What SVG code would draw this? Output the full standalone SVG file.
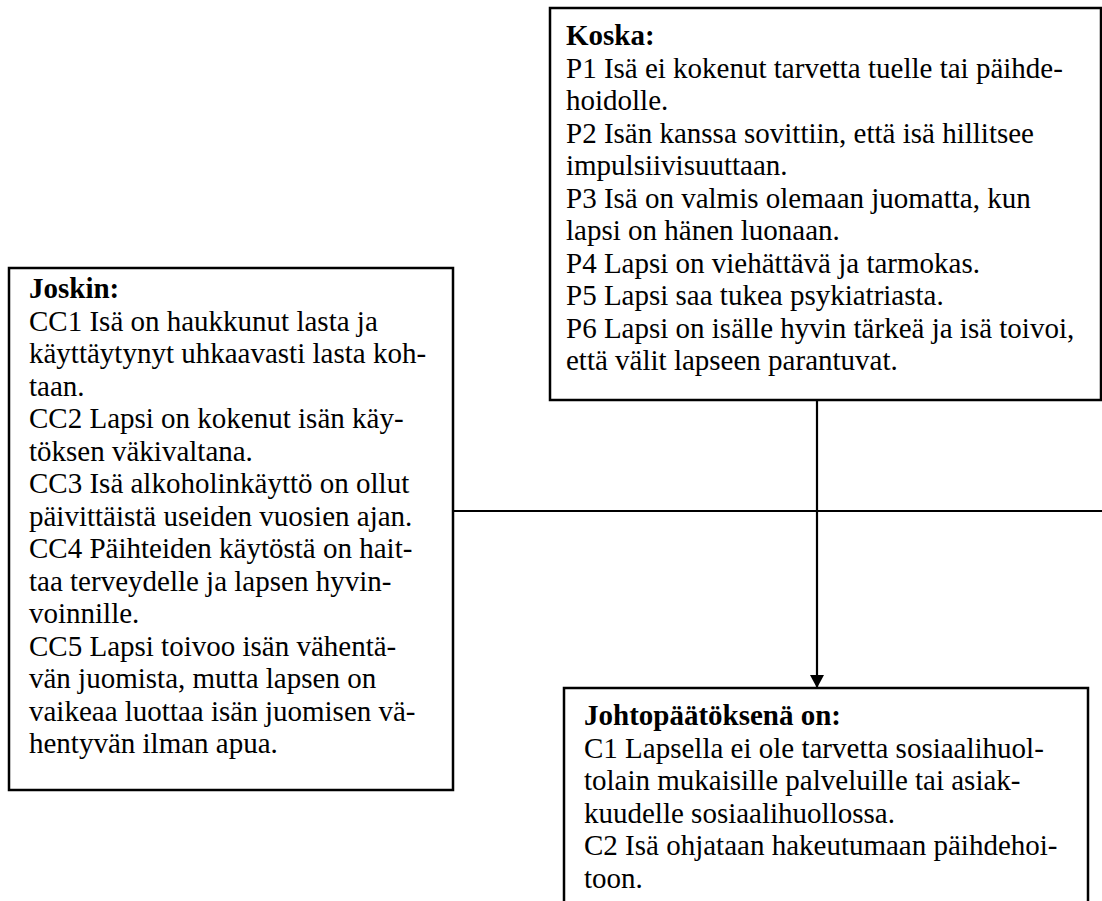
<svg xmlns="http://www.w3.org/2000/svg" width="1102" height="901" viewBox="0 0 1102 901">
<style>
  .box { fill: #ffffff; stroke: #000000; stroke-width: 2.5; }
  .txt { font-family: "Liberation Serif", "Times New Roman", serif; font-size: 29px; fill: #000000; }
  .hd { font-weight: bold; }
  .conn { stroke: #000000; stroke-width: 2.2; fill: none; }
</style>
<defs>
  <marker id="arrow" markerUnits="userSpaceOnUse" markerWidth="14" markerHeight="14" refX="13" refY="7" orient="auto">
    <path d="M0,0 L13,7 L0,14 Z" fill="#000000"/>
  </marker>
</defs>
<rect x="0" y="0" width="1102" height="901" fill="#ffffff"/>
<g id="connectors">
  <line class="conn" x1="453" y1="511" x2="1102" y2="511"/>
  <line class="conn" x1="817" y1="400" x2="817" y2="688" marker-end="url(#arrow)"/>
</g>
<g id="koska">
  <rect class="box" x="550" y="8" width="551" height="392"/>
  <text class="txt">
    <tspan class="hd" x="566" y="45">Koska:</tspan>
    <tspan x="566" y="77.5">P1 Isä ei kokenut tarvetta tuelle tai päihde-</tspan>
    <tspan x="566" y="110">hoidolle.</tspan>
    <tspan x="566" y="142.5">P2 Isän kanssa sovittiin, että isä hillitsee</tspan>
    <tspan x="566" y="175">impulsiivisuuttaan.</tspan>
    <tspan x="566" y="207.5">P3 Isä on valmis olemaan juomatta, kun</tspan>
    <tspan x="566" y="240">lapsi on hänen luonaan.</tspan>
    <tspan x="566" y="272.5">P4 Lapsi on viehättävä ja tarmokas.</tspan>
    <tspan x="566" y="305">P5 Lapsi saa tukea psykiatriasta.</tspan>
    <tspan x="566" y="337.5">P6 Lapsi on isälle hyvin tärkeä ja isä toivoi,</tspan>
    <tspan x="566" y="370">että välit lapseen parantuvat.</tspan>
  </text>
</g>
<g id="joskin">
  <rect class="box" x="9" y="268" width="444" height="522"/>
  <text class="txt">
    <tspan class="hd" x="29" y="298">Joskin:</tspan>
    <tspan x="29" y="330.5">CC1 Isä on haukkunut lasta ja</tspan>
    <tspan x="29" y="363">käyttäytynyt uhkaavasti lasta koh-</tspan>
    <tspan x="29" y="395.5">taan.</tspan>
    <tspan x="29" y="428">CC2 Lapsi on kokenut isän käy-</tspan>
    <tspan x="29" y="460.5">töksen väkivaltana.</tspan>
    <tspan x="29" y="493">CC3 Isä alkoholinkäyttö on ollut</tspan>
    <tspan x="29" y="525.5">päivittäistä useiden vuosien ajan.</tspan>
    <tspan x="29" y="558">CC4 Päihteiden käytöstä on hait-</tspan>
    <tspan x="29" y="590.5">taa terveydelle ja lapsen hyvin-</tspan>
    <tspan x="29" y="623">voinnille.</tspan>
    <tspan x="29" y="655.5">CC5 Lapsi toivoo isän vähentä-</tspan>
    <tspan x="29" y="688">vän juomista, mutta lapsen on</tspan>
    <tspan x="29" y="720.5">vaikeaa luottaa isän juomisen vä-</tspan>
    <tspan x="29" y="753">hentyvän ilman apua.</tspan>
  </text>
</g>
<g id="johtopaatos">
  <rect class="box" x="564" y="688" width="524" height="230"/>
  <text class="txt">
    <tspan class="hd" x="584" y="725">Johtopäätöksenä on:</tspan>
    <tspan x="584" y="757.5">C1 Lapsella ei ole tarvetta sosiaalihuol-</tspan>
    <tspan x="584" y="790">tolain mukaisille palveluille tai asiak-</tspan>
    <tspan x="584" y="822.5">kuudelle sosiaalihuollossa.</tspan>
    <tspan x="584" y="855">C2 Isä ohjataan hakeutumaan päihdehoi-</tspan>
    <tspan x="584" y="887.5">toon.</tspan>
  </text>
</g>
</svg>
